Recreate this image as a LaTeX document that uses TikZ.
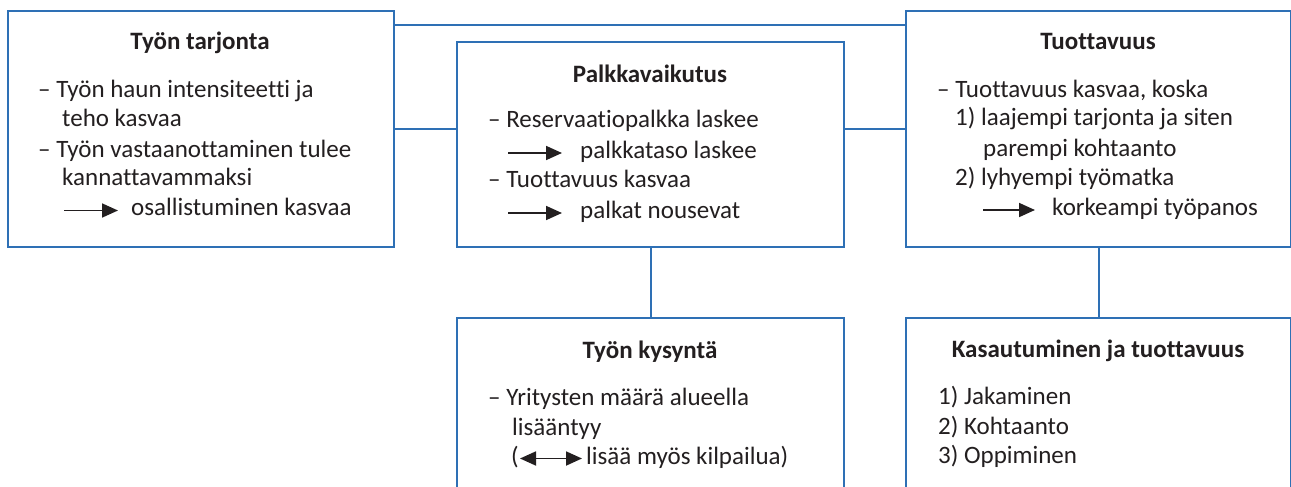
\documentclass[tikz,border=0pt]{standalone}
\usepackage{fontspec}
\setmainfont{Carlito}[Ligatures={NoCommon}]
\usetikzlibrary{arrows.meta}
\definecolor{boxblue}{HTML}{2E70B5}
\definecolor{ink}{HTML}{231F20}
\tikzset{
  box/.style={draw=boxblue, line width=2.3pt, rectangle, anchor=north west, inner sep=0pt, fill=white},
  conn/.style={draw=boxblue, line width=2.3pt},
  ttl/.style={anchor=base, inner sep=0pt, text=ink, font=\fontsize{25}{30}\selectfont\bfseries},
  txt/.style={anchor=base west, inner sep=0pt, text=ink, font=\fontsize{25}{30}\selectfont},
  sarrow/.style={draw=ink, line width=1.8pt, -{Triangle[length=16pt,width=14pt]}},
  darrow/.style={draw=ink, line width=1.8pt, {Triangle[length=16pt,width=14pt]}-{Triangle[length=16pt,width=14pt]}}
}
\begin{document}
\begin{tikzpicture}[x=1pt,y=-1pt]
\useasboundingbox (0,0) rectangle (1291,487);
% boxes
\node[box, minimum width=386pt, minimum height=236pt] (A) at (7,10) {};
\node[box, minimum width=387pt, minimum height=205pt] (B) at (456,41) {};
\node[box, minimum width=385pt, minimum height=236pt] (C) at (905,10) {};
\node[box, minimum width=387pt, minimum height=190pt] (D) at (456,317) {};
\node[box, minimum width=385pt, minimum height=190pt] (E) at (905,317) {};
% connectors
\draw[conn] (A.east |- 0,25) -- (C.west |- 0,25);
\draw[conn] (A.east) -- (B.west |- A.east);
\draw[conn] (B.east |- C.west) -- (C.west);
\draw[conn] (B.south) -- (D.north);
\draw[conn] (C.south) -- (E.north);
% Box A
\node[ttl] (At) at (200,50) {Työn tarjonta};
\node[txt] (A1) at (38,97) {– Työn haun intensiteetti ja};
\node[txt] (A2) at (62,126) {teho kasvaa};
\node[txt] (A3) at (38,157) {– Työn vastaanottaminen tulee};
\node[txt] (A4) at (62,185) {kannattavammaksi};
\node[txt] (A5) at (131,215) {osallistuminen kasvaa};
\coordinate (Aa1) at (64,210.5);
\coordinate (Aa2) at (118,210.5);
\draw[sarrow] (Aa1) -- (Aa2);
% Box B
\node[ttl] (Bt) at (650,82) {Palkkavaikutus};
\node[txt] (B1) at (488,128) {– Reservaatiopalkka laskee};
\node[txt] (B2) at (580,158) {palkkataso laskee};
\node[txt] (B3) at (488,187) {– Tuottavuus kasvaa};
\node[txt] (B4) at (580,218) {palkat nousevat};
\coordinate (Ba1) at (508,153);
\coordinate (Ba2) at (562,153);
\coordinate (Bb1) at (508,213);
\coordinate (Bb2) at (562,213);
\draw[sarrow] (Ba1) -- (Ba2);
\draw[sarrow] (Bb1) -- (Bb2);
% Box C
\node[ttl] (Ct) at (1098,50) {Tuottavuus};
\node[txt] (C1) at (937,97) {– Tuottavuus kasvaa, koska};
\node[txt] (C2) at (955,125) {1) laajempi tarjonta ja siten};
\node[txt] (C3) at (983,156) {parempi kohtaanto};
\node[txt] (C4) at (955,185) {2) lyhyempi työmatka};
\node[txt] (C5) at (1052,215) {korkeampi työpanos};
\coordinate (Ca1) at (983,210);
\coordinate (Ca2) at (1035,210);
\draw[sarrow] (Ca1) -- (Ca2);
% Box D
\node[ttl] (Dt) at (650,358) {Työn kysyntä};
\node[txt] (D1) at (488,405) {– Yritysten määrä alueella};
\node[txt] (D2) at (512,435) {lisääntyy};
\node[txt] (D3) at (511,464) {(};
\node[txt] (D4) at (586,464) {lisää myös kilpailua)};
\coordinate (Da1) at (520,458.5);
\coordinate (Da2) at (582,458.5);
\draw[darrow] (Da1) -- (Da2);
% Box E
\node[ttl] (Et) at (1098,357) {Kasautuminen ja tuottavuus};
\node[txt] (E1) at (938,404) {1) Jakaminen};
\node[txt] (E2) at (938,434) {2) Kohtaanto};
\node[txt] (E3) at (938,463) {3) Oppiminen};
\end{tikzpicture}
\end{document}
